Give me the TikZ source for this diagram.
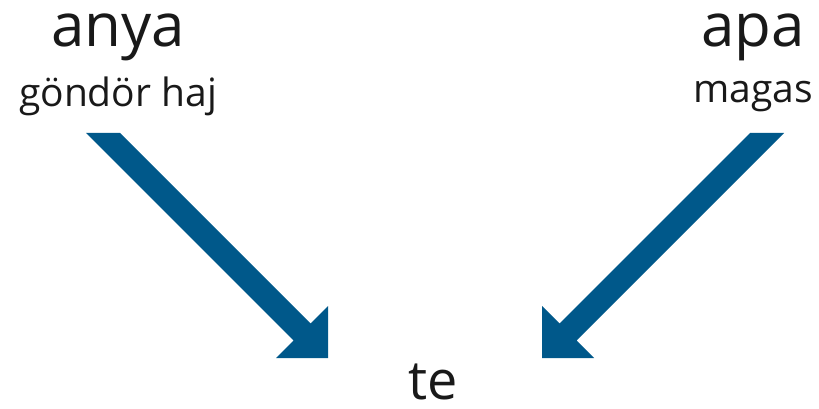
\documentclass[tikz,border=0pt]{standalone}
\usepackage{fontspec}
\setmainfont{Open Sans}
\definecolor{arrowblue}{RGB}{0,88,138}
\definecolor{txt}{RGB}{25,25,25}
\tikzset{
  big/.style={font=\fontsize{60}{60}\selectfont, text=txt, anchor=base, inner sep=0pt},
  small/.style={font=\fontsize{39}{39}\selectfont, text=txt, anchor=base, inner sep=0pt},
  mid/.style={font=\fontsize{54}{54}\selectfont, text=txt, anchor=base, inner sep=0pt, text depth=0pt},
  fatarrow/.style={fill=arrowblue, draw=none}
}
\newcommand{\fatarrowshape}{%
  (0,0) -- (0,-52) -- (-17.5,-34.5) -- (-208,-225) -- (-242,-225) -- (-34.5,-17.5) -- (-52,0) -- cycle}
\begin{document}
\begin{tikzpicture}[x=1pt,y=-1pt]
\useasboundingbox (0,0) rectangle (819,409);
\node[big] (anya) at (118,47) {anya};
\node[small] (hair) at (118,107) {göndör haj};
\node[big] (apa) at (753,47) {apa};
\node[small] (tall) at (753,103) {magas};
\node[mid] (te) at (433,399) {te};
\coordinate (tipL) at (328,358);
\coordinate (tipR) at (542,358);
\begin{scope}[shift={(tipL)}]
  \fill[fatarrow] \fatarrowshape;
\end{scope}
\begin{scope}[shift={(tipR)}, xscale=-1]
  \fill[fatarrow] \fatarrowshape;
\end{scope}
\end{tikzpicture}
\end{document}
